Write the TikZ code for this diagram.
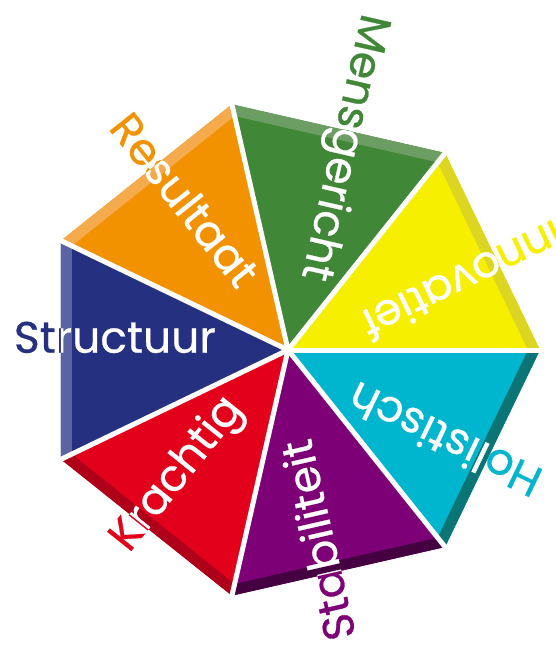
\documentclass[tikz,border=0pt]{standalone}
\usepackage{fontspec}
\setmainfont{Poppins}
\newfontfamily\wedgefont{Poppins}[FakeBold=0.6]
\usetikzlibrary{calc}
\definecolor{cYel}{HTML}{F6EF00}
\definecolor{eYel}{HTML}{DCD622}
\definecolor{cGrn}{HTML}{408737}
\definecolor{eGrn}{HTML}{6C9E63}
\definecolor{cOrg}{HTML}{F39200}
\definecolor{eOrg}{HTML}{F5AB4D}
\definecolor{cBlu}{HTML}{253081}
\definecolor{eBlu}{HTML}{5B63A3}
\definecolor{cRed}{HTML}{E3001B}
\definecolor{eRed}{HTML}{AE0019}
\definecolor{cPur}{HTML}{7E0077}
\definecolor{ePur}{HTML}{440040}
\definecolor{cCya}{HTML}{00B5CE}
\definecolor{eCya}{HTML}{0B7474}
\tikzset{
  wlabel/.style={font=\wedgefont\fontsize{44}{48}\selectfont, inner sep=0pt, anchor=mid east},
  wgap/.style={white, line width=5pt},
}

\begin{document}
\begin{tikzpicture}[x=1pt, y=1pt]
  \useasboundingbox (-288,-296) rectangle (267,350);
  \coordinate (ctr) at (0,0);
  % wedges with bevelled rim
  \foreach \k/\fc/\ec in {0/cYel/eYel, 1/cGrn/eGrn, 2/cOrg/eOrg, 3/cBlu/eBlu, 4/cRed/eRed, 5/cPur/ePur, 6/cCya/eCya} {
    \pgfmathsetmacro{\aa}{\k*360/7}
    \pgfmathsetmacro{\ab}{(\k+1)*360/7}
    \fill[\fc] (ctr) -- (\aa:252) -- (\ab:252) -- cycle;
    \fill[\ec] (\aa:252) -- (\ab:252) -- (\ab:240) -- (\aa:240) -- cycle;
  }
  % labels: coloured outside, white inside the wedge
  \foreach \k/\fc/\r/\txt in {0/cYel/78/Innovatief, 1/cGrn/74/Mensgericht, 2/cOrg/78/Resultaat, 3/cBlu/72/Structuur, 4/cRed/74/Krachtig, 5/cPur/90/Stabiliteit, 6/cCya/76/Holistisch} {
    \pgfmathsetmacro{\aa}{\k*360/7}
    \pgfmathsetmacro{\ab}{(\k+1)*360/7}
    \pgfmathsetmacro{\am}{(\k+0.5)*360/7}
    \node[wlabel, text=\fc, rotate=\am+180] (lbl\k) at (\am:\r) {\txt};
    \begin{scope}
      \clip (ctr) -- (\aa:252) -- (\ab:252) -- cycle;
      \node[wlabel, text=white, rotate=\am+180] (wlbl\k) at (\am:\r) {\txt};
    \end{scope}
  }
  % white gaps between the wedges
  \foreach \k in {0,...,6}
    \draw[wgap] (ctr) -- (\k*360/7:254);
\end{tikzpicture}
\end{document}
